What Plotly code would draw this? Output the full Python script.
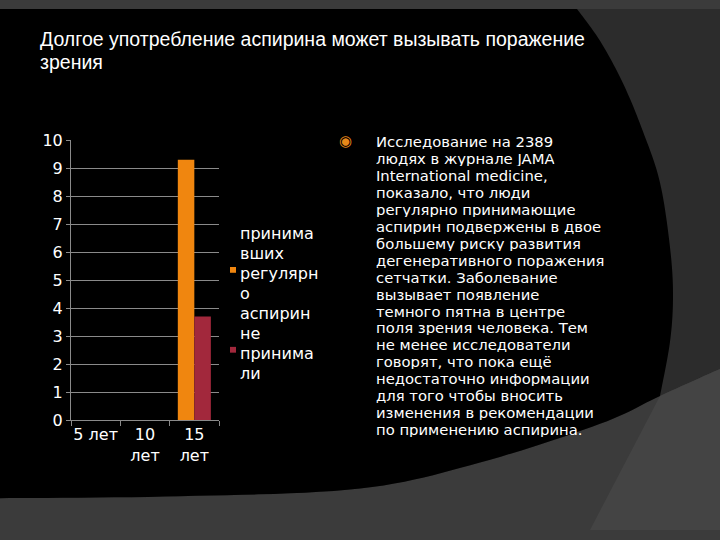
import plotly.graph_objects as go

W, H = 720, 540

# ---- data ----
categories = ["5 лет", "10 лет", "15 лет"]
tick_labels = ["5 лет", "10<br>лет", "15<br>лет"]
took_regularly = [0, 0, 9.3]
did_not_take = [0, 0, 3.7]
series_names = ["принимавших регулярно аспирин", "не принимали"]
legend_lines = [["принима", "вших", "регулярн", "о", "аспирин"], ["не", "принима", "ли"]]
series_colors = ["#F0860F", "#A2283C"]

title_lines = ["Долгое употребление аспирина может вызывать поражение", "зрения"]
body_lines = [
    "Исследование на 2389",
    "людях в журнале JAMA",
    "International medicine,",
    "показало, что люди",
    "регулярно принимающие",
    "аспирин подвержены в двое",
    "большему риску развития",
    "дегенеративного поражения",
    "сетчатки. Заболевание",
    "вызывает появление",
    "темного пятна в центре",
    "поля зрения человека. Тем",
    "не менее исследователи",
    "говорят, что пока ещё",
    "недостаточно информации",
    "для того чтобы вносить",
    "изменения в рекомендации",
    "по применению аспирина.",
]

FONT = "DejaVu Sans, Liberation Sans, Arial"


def px(x):
    return x / W


def py(y):
    return 1 - y / H


def spline(pts, n=12):
    # Catmull-Rom smoothing for decorative background curves
    out = []
    P = [pts[0]] + pts + [pts[-1]]
    for i in range(1, len(P) - 2):
        p0, p1, p2, p3 = P[i - 1], P[i], P[i + 1], P[i + 2]
        for k in range(n):
            t = k / n
            t2, t3 = t * t, t * t * t
            x = 0.5 * ((2 * p1[0]) + (-p0[0] + p2[0]) * t + (2 * p0[0] - 5 * p1[0] + 4 * p2[0] - p3[0]) * t2 + (-p0[0] + 3 * p1[0] - 3 * p2[0] + p3[0]) * t3)
            y = 0.5 * ((2 * p1[1]) + (-p0[1] + p2[1]) * t + (2 * p0[1] - 5 * p1[1] + 4 * p2[1] - p3[1]) * t2 + (-p0[1] + 3 * p1[1] - 3 * p2[1] + p3[1]) * t3)
            out.append((x, y))
    out.append(pts[-1])
    return out


def path_from(pts):
    return "M " + " L ".join(f"{px(x):.5f},{py(y):.5f}" for x, y in pts) + " Z"


lower_curve = [(0, 507), (180, 505), (360, 497), (480, 470), (600, 430), (660, 401), (720, 373)]
right_curve = [(577, 0), (600, 33), (623, 77), (643, 127), (660, 180), (670, 247), (673, 297), (670, 345), (660, 401)]
lc = spline(lower_curve)
rc = spline(right_curve)
idx_corner = min(range(len(lc)), key=lambda i: abs(lc[i][0] - 660))

upper_region = [(0, 0), (720, 0)] + list(reversed(lc))
black_region = [(0, 0)] + rc + list(reversed(lc[: idx_corner + 1]))
lower_right = lc[idx_corner:] + [(720, 540), (590, 540)]

shapes = [
    dict(type="path", xref="paper", yref="paper", path=path_from(upper_region),
         fillcolor="#2c2c2c", line=dict(width=0), layer="below"),
    dict(type="path", xref="paper", yref="paper", path=path_from(lower_right),
         fillcolor="#444444", line=dict(width=0), layer="below"),
    dict(type="path", xref="paper", yref="paper", path=path_from(black_region),
         fillcolor="#000000", line=dict(width=0), layer="below"),
]

fig = go.Figure()
for name, vals, col in zip(series_names, [took_regularly, did_not_take], series_colors):
    fig.add_trace(go.Bar(x=categories, y=vals, name=name, marker=dict(color=col, line=dict(width=0))))

annotations = []
for i, t in enumerate(title_lines):
    annotations.append(dict(text=t, x=px(38), y=py(31 + 24 * i), xref="paper", yref="paper",
                            xanchor="left", yanchor="middle", showarrow=False,
                            font=dict(family="Liberation Sans, Arial", size=19.5, color="white")))
for i, t in enumerate(body_lines):
    annotations.append(dict(text=t, x=px(375), y=py(137 + 17.55 * i), xref="paper", yref="paper",
                            xanchor="left", yanchor="middle", showarrow=False, height=16, borderpad=0,
                            font=dict(family=FONT, size=14.8, color="white")))
annotations.append(dict(text="◉", x=px(345), y=py(137), xref="paper", yref="paper",
                        xanchor="center", yanchor="middle", showarrow=False,
                        font=dict(family="DejaVu Sans", size=15, color="#E8891A")))

# manual legend (wrapped like the original slide)
line_y = 233
for lines, col in zip(legend_lines, series_colors):
    mid = line_y + 20.7 * ((len(lines) - 1) // 2 if len(lines) > 3 else 1)
    shapes.append(dict(type="rect", xref="paper", yref="paper",
                       x0=px(230), x1=px(236), y0=py(mid - 1), y1=py(mid - 7),
                       fillcolor=col, line=dict(width=0)))
    for t in lines:
        annotations.append(dict(text=t, x=px(238), y=py(line_y), xref="paper", yref="paper",
                                xanchor="left", yanchor="middle", showarrow=False,
                                font=dict(family=FONT, size=16, color="white")))
        line_y += 20.7

fig.update_layout(
    width=W, height=H,
    margin=dict(l=0, r=0, t=0, b=0),
    paper_bgcolor="#3b3b3b",
    plot_bgcolor="rgba(0,0,0,0)",
    barmode="group", bargap=0.33, bargroupgap=0,
    shapes=shapes,
    annotations=annotations,
    showlegend=False,
    xaxis=dict(domain=[px(71), px(219)], type="category", categoryorder="array", categoryarray=categories,
               tickmode="array", tickvals=categories, ticktext=tick_labels, tickangle=0,
               showline=True, linecolor="#8a8a8a", linewidth=1,
               ticks="outside", tickson="boundaries", ticklen=5, tickcolor="#8a8a8a",
               showgrid=False, tickfont=dict(family=FONT, size=16, color="white")),
    yaxis=dict(domain=[py(426), py(136)], range=[0, 10], dtick=1,
               showline=True, linecolor="#8a8a8a", linewidth=1,
               ticks="outside", ticklen=4, tickcolor="#8a8a8a",
               showgrid=True, gridcolor="#8a8a8a", gridwidth=1, zeroline=False,
               tickfont=dict(family=FONT, size=16, color="white")),
)

fig.write_html("out.html", config={"displayModeBar": False},
               post_script="document.body.style.margin='0';document.body.style.background='#3b3b3b';")
